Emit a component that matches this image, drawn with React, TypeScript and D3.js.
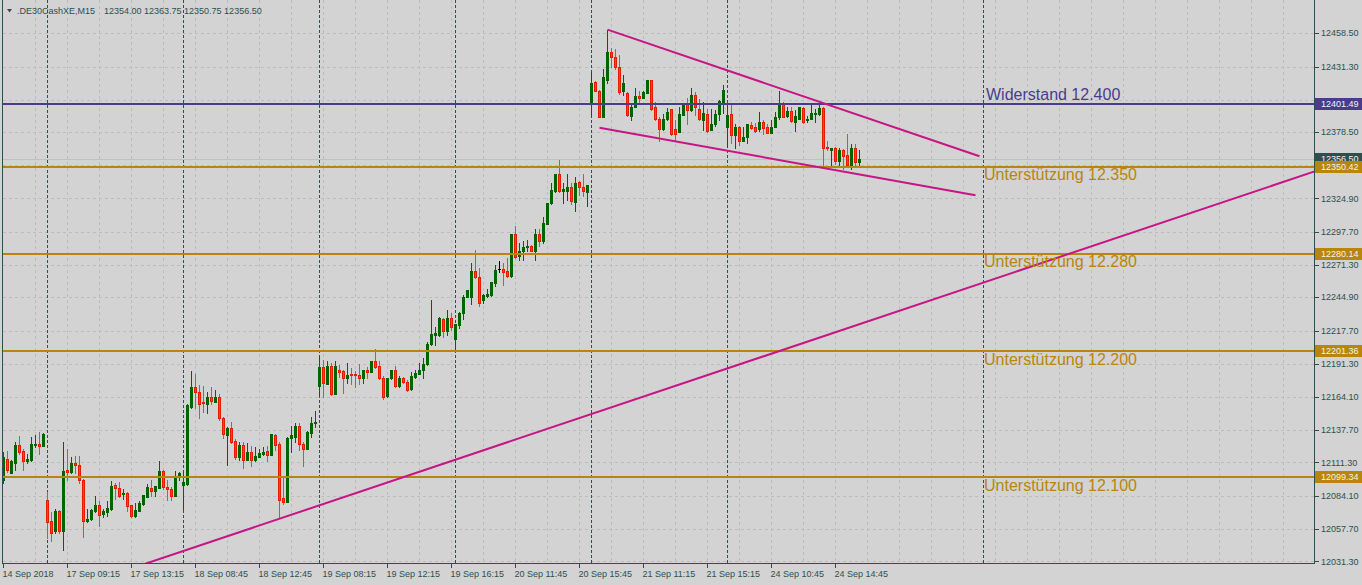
import React from "react";
import * as d3 from "d3";

// DE30 M15 candles, one array per trading day: [open, high, low, close]
const sep14 = [
  [12097, 12120, 12095, 12116], [12114.5, 12120.5, 12104, 12105], [12103, 12113, 12102.5, 12112.5],
  [12111, 12128, 12105, 12125.5], [12125.5, 12132.5, 12118.5, 12120], [12120.5, 12122.5, 12105, 12112.5],
  [12112.5, 12118.5, 12110.5, 12114], [12113.5, 12132, 12112.5, 12126], [12126, 12133.5, 12124, 12126.5],
  [12126, 12136, 12118.5, 12124.5], [12125, 12135.5, 12124.5, 12134.5],
];
const sep17 = [
  [12081, 12087.5, 12050, 12063.5], [12064, 12071.5, 12048, 12054.5], [12055.5, 12074, 12054, 12072],
  [12072, 12073, 12054, 12055.5], [12056, 12127.5, 12040.5, 12104.5], [12105, 12122.5, 12097.5, 12103.5],
  [12104, 12116, 12102.5, 12111], [12111, 12116.5, 12102.5, 12109], [12109, 12116.5, 12094.5, 12097.5],
  [12097.5, 12098, 12051, 12064], [12064, 12074, 12063, 12065.5], [12065.5, 12073.5, 12065, 12073],
  [12072, 12084, 12071.5, 12077], [12077, 12080.5, 12060, 12069], [12069.5, 12074, 12067, 12072],
  [12071.5, 12080, 12068, 12074.5], [12073.5, 12096.5, 12073, 12092], [12093, 12094.5, 12081.5, 12091],
  [12090.5, 12095.5, 12083, 12084], [12085.5, 12089.5, 12081.5, 12087], [12086.5, 12087.5, 12072, 12076],
  [12077, 12077, 12067.5, 12068], [12068, 12078.5, 12067, 12073], [12072, 12080, 12072, 12078.5],
  [12077.5, 12085, 12077, 12085], [12083.5, 12094, 12083.5, 12091.5], [12090.5, 12097.5, 12084, 12088.5],
  [12088.5, 12092.5, 12084, 12092], [12091, 12112.5, 12091, 12104.5], [12104.5, 12105.5, 12089.5, 12091.5],
  [12091.5, 12097.5, 12081, 12089.5], [12090, 12091.5, 12081, 12084], [12084, 12104.5, 12084, 12100],
  [12100, 12104, 12097, 12102.5],
];
const sep18 = [
  [12093, 12104, 12074, 12095.5], [12094, 12159, 12093, 12158], [12156.5, 12185, 12155, 12172.5],
  [12172, 12183, 12155, 12168.5], [12168.5, 12174, 12147, 12158.5], [12160.5, 12173, 12152.5, 12159.5],
  [12158.5, 12168.5, 12151.5, 12164.5], [12164.5, 12172, 12158.5, 12161], [12160, 12170, 12160, 12164.5],
  [12164.5, 12166.5, 12145.5, 12147], [12147, 12148.5, 12131.5, 12134.5], [12133.5, 12140, 12109, 12139.5],
  [12139.5, 12144, 12127, 12127.5], [12129, 12130, 12114, 12115.5], [12115.5, 12128, 12113.5, 12125.5],
  [12125.5, 12128, 12106.5, 12113.5], [12113.5, 12127, 12113, 12120], [12120, 12124.5, 12108.5, 12113.5],
  [12113.5, 12123.5, 12112.5, 12116.5], [12116, 12122.5, 12115.5, 12119], [12118, 12124, 12117.5, 12120],
  [12120.5, 12124.5, 12112.5, 12117.5], [12117.5, 12134.5, 12117, 12134.5], [12133.5, 12134, 12121.5, 12125.5],
  [12126, 12128, 12066, 12081], [12082.5, 12099.5, 12078, 12079.5], [12079.5, 12132, 12079, 12131.5],
  [12131, 12141, 12120, 12133.5], [12132, 12143, 12127.5, 12141], [12141, 12143.5, 12121.5, 12126],
  [12126, 12127.5, 12108.5, 12122.5], [12122.5, 12136.5, 12122, 12136], [12135.5, 12148.5, 12132, 12143],
  [12143.5, 12153, 12140, 12144],
];
const sep19 = [
  [12173, 12197.5, 12166, 12188.5], [12188.5, 12194, 12164.5, 12176], [12174.5, 12193.5, 12174.5, 12189.5],
  [12189.5, 12191.5, 12166, 12166.5], [12167, 12193, 12167, 12189.5], [12186, 12190, 12180.5, 12184.5],
  [12185, 12186.5, 12167.5, 12180], [12180, 12192, 12176, 12182], [12183, 12187.5, 12174.5, 12182],
  [12182.5, 12185, 12172, 12182], [12182, 12191, 12174.5, 12179.5], [12179.5, 12186.5, 12176, 12186.5],
  [12186.5, 12188.5, 12179.5, 12184.5], [12184.5, 12193, 12184.5, 12193], [12193, 12203.5, 12187.5, 12188.5],
  [12189, 12193, 12178.5, 12179.5], [12179.5, 12181, 12163, 12164.5], [12165, 12180, 12164.5, 12179.5],
  [12179.5, 12186, 12178.5, 12186], [12186, 12189, 12172.5, 12173], [12173, 12181, 12172.5, 12179.5],
  [12179.5, 12180.5, 12175.5, 12176.5], [12176.5, 12178, 12169.5, 12170], [12170.5, 12184.5, 12170, 12181],
  [12180.5, 12186.5, 12179.5, 12183.5], [12183, 12192, 12182.5, 12186.5], [12186.5, 12195.5, 12179.5, 12191],
  [12191, 12209, 12190, 12207.5], [12207.5, 12242.5, 12206.5, 12215], [12214.5, 12221, 12206.5, 12216],
  [12214.5, 12229, 12213.5, 12228], [12227, 12228.5, 12213, 12218], [12218, 12235, 12214.5, 12228.5],
  [12228.5, 12232.5, 12218.5, 12221],
];
const sep20 = [
  [12211, 12223.5, 12203, 12223.5], [12222.5, 12233, 12220.5, 12232], [12232, 12246.5, 12227, 12245.5],
  [12245.5, 12251, 12245, 12251], [12245.5, 12272.5, 12239.5, 12266.5], [12266.5, 12283, 12260.5, 12261],
  [12261, 12268.5, 12238, 12240], [12242.5, 12247.5, 12240, 12246.5], [12246, 12251.5, 12245.5, 12248],
  [12246.5, 12257.5, 12246, 12257.5], [12256.5, 12271, 12254, 12267], [12267.5, 12274, 12265, 12267.5],
  [12268, 12272.5, 12255, 12265.5], [12266.5, 12276.5, 12261, 12262], [12262, 12296, 12261.5, 12296],
  [12296, 12302.5, 12276.5, 12277.5], [12278.5, 12289, 12275, 12282.5], [12282, 12290.5, 12275, 12286],
  [12285.5, 12291, 12282, 12286.5], [12286.5, 12287, 12282, 12282.5], [12282.5, 12300.5, 12275, 12296.5],
  [12296.5, 12300.5, 12286.5, 12290.5], [12290.5, 12310, 12289, 12305], [12304.5, 12321.5, 12304, 12321.5],
  [12321, 12337.5, 12320.5, 12331.5], [12331, 12344.5, 12330.5, 12344.5], [12344.5, 12356, 12330, 12331],
  [12331, 12337, 12321, 12332.5], [12331, 12344.5, 12323.5, 12334.5], [12334, 12337, 12320.5, 12323],
  [12322, 12342, 12315, 12337.5], [12338, 12339, 12327.5, 12334], [12334, 12344.5, 12327, 12331],
  [12330.5, 12336, 12319, 12335.5],
];
const sep21 = [
  [12402.5, 12427.5, 12392.5, 12418.5], [12419, 12419.5, 12411.5, 12412], [12412, 12412.5, 12390.5, 12391],
  [12391, 12430, 12390.5, 12423], [12421, 12461.5, 12418, 12443.5], [12443.5, 12446.5, 12431.5, 12439],
  [12439, 12445.5, 12430, 12431], [12431, 12441, 12409.5, 12411], [12412, 12424.5, 12408.5, 12418.5],
  [12410.5, 12411, 12391.5, 12392.5], [12391.5, 12402, 12388, 12399], [12398.5, 12414, 12398.5, 12407.5],
  [12407.5, 12412, 12402.5, 12406], [12406.5, 12412, 12406, 12411], [12410.5, 12421, 12410, 12420.5],
  [12420.5, 12421, 12396.5, 12397], [12398.5, 12403, 12388, 12389], [12389.5, 12390.5, 12371, 12381],
  [12381, 12393.5, 12380, 12389.5], [12389, 12398, 12388, 12395], [12397, 12397.5, 12376, 12377],
  [12381, 12388, 12371, 12377], [12379, 12398.5, 12378.5, 12393], [12392.5, 12402, 12392, 12400.5],
  [12401.5, 12406, 12385, 12396.5], [12396.5, 12414, 12395.5, 12408.5], [12408.5, 12411, 12392.5, 12398.5],
  [12397, 12405, 12388, 12389], [12388.5, 12403, 12380, 12394], [12393.5, 12397, 12379, 12379.5],
  [12380, 12397, 12380, 12385.5], [12385, 12396.5, 12383.5, 12393.5], [12393, 12404.5, 12388, 12404],
  [12402, 12416.5, 12394, 12413],
];
const sep24 = [
  [12382.5, 12402, 12366.5, 12392.5], [12393, 12402, 12370, 12376], [12376, 12385.5, 12365.5, 12382.5],
  [12382.5, 12383.5, 12368, 12371.5], [12371.5, 12383, 12371, 12375], [12375, 12385, 12369.5, 12385],
  [12384.5, 12387, 12381, 12381.5], [12382.5, 12386, 12379, 12379.5], [12381, 12395, 12379.5, 12387],
  [12387, 12388.5, 12377, 12381.5], [12382.5, 12385.5, 12377.5, 12378], [12378, 12388.5, 12377.5, 12383],
  [12383, 12395, 12382.5, 12391], [12390.5, 12412, 12389.5, 12401.5], [12401.5, 12403, 12390.5, 12391],
  [12391.5, 12398.5, 12390.5, 12396], [12396, 12399, 12387, 12387.5], [12387, 12396.5, 12379.5, 12391.5],
  [12389.5, 12399, 12389, 12398.5], [12398, 12398.5, 12386, 12387], [12388, 12391.5, 12387, 12389.5],
  [12389.5, 12402, 12389, 12394], [12393, 12397, 12387, 12394], [12393.5, 12402, 12392.5, 12398],
  [12398, 12398.5, 12352, 12365.5], [12366.5, 12371.5, 12364, 12365.5], [12364, 12365.5, 12352, 12365.5],
  [12365.5, 12366.5, 12353, 12355.5], [12355.5, 12366, 12352, 12364], [12364, 12364.5, 12348.5, 12359],
  [12360, 12377, 12350.5, 12352], [12352, 12369, 12348.5, 12365.5], [12366, 12369, 12350.5, 12354],
  [12354, 12363.75, 12350.75, 12356.5],
];
const tradingDays = [sep14, sep17, sep18, sep19, sep20, sep21, sep24];

const timeLabels = [
  "14 Sep 2018", "17 Sep 09:15", "17 Sep 13:15", "18 Sep 08:45", "18 Sep 12:45",
  "19 Sep 08:15", "19 Sep 12:15", "19 Sep 16:15", "20 Sep 11:45", "20 Sep 15:45",
  "21 Sep 11:15", "21 Sep 15:15", "24 Sep 10:45", "24 Sep 14:45",
];
const priceTicks = [
  12458.5, 12431.3, 12404.9, 12378.5, 12351.7, 12324.9, 12297.7, 12271.3, 12244.9,
  12217.7, 12191.3, 12164.1, 12137.7, 12111.3, 12084.1, 12057.7, 12031.3,
];

const resistance = [12401.49];
const resistanceLabels = ["Widerstand 12.400"];
const supports = [12350.42, 12280.14, 12201.36, 12099.34];
const supportLabels = ["Unterstützung 12.350", "Unterstützung 12.280", "Unterstützung 12.200", "Unterstützung 12.100"];

// trend lines as [bar, price] anchors
const wedgeUpper: [number, number][] = [[151, 12461.5], [244, 12359]];
const wedgeLower: [number, number][] = [[149, 12382], [243, 12327.5]];
const longTrend: [number, number][] = [[36, 12030], [328, 12347]];
const markerBar = 245;

const symbolText = ".DE30CashXE,M15";
const ohlcText = "12354.00 12363.75 12350.75 12356.50";
const bid = 12356.5;

const W = 1362;
const H = 585;
const FONT = "'Liberation Sans', Arial, sans-serif";
const FRAME = "#2f4f4f";
const BG = "#d3d3d3";
const GRID = "#bdbdbd";
const PURPLE = "#483d8b";
const GOLD = "#b8860b";
const PINK = "#c71585";
const BULL = "#006400";
const BEAR = "#ff4500";

const App = () => {
  const candles = tradingDays.flat().map(([o, h, l, c], i) => ({ i, o, h, l, c }));
  const dayStarts = d3.cumsum(tradingDays.map((d) => d.length)).slice(0, -1);

  const x = d3.scaleLinear().domain([0, 1]).range([3.5, 7.5]);
  const y = d3.scaleLinear().domain([12030, 12483]).range([563, 3]);

  const plotLeft = 2.5;
  const plotRight = 1314.5;
  const plotBottom = 563.5;

  const line = d3
    .line<[number, number]>()
    .x((d) => x(d[0]))
    .y((d) => y(d[1]));

  // extend long trend line across the plot
  const [[a0, p0], [a1, p1]] = longTrend;
  const slope = (p1 - p0) / (a1 - a0);
  const barAtLeft = x.invert(0);
  const barAtRight = x.invert(plotRight + 10);
  const longExtended: [number, number][] = [
    [barAtLeft, p0 + (barAtLeft - a0) * slope],
    [barAtRight, p0 + (barAtRight - a0) * slope],
  ];

  const gridBars = d3.range(8, x.invert(plotRight), 8);
  const fmt = d3.format(".2f");

  const tags = [
    { p: bid, fill: FRAME },
    ...resistance.map((p) => ({ p, fill: PURPLE })),
    ...supports.map((p) => ({ p, fill: GOLD })),
  ];
  // axis labels hidden under a price tag are not drawn
  const visibleTicks = priceTicks.filter((t) => tags.every(({ p }) => Math.abs(y(p) - y(t)) > 9));

  return (
    <svg
      width={W}
      height={H}
      style={{ position: "absolute", left: 0, top: 0, display: "block" }}
      fontFamily={FONT}
    >
      <defs>
        <clipPath id="plot">
          <rect x={plotLeft} y={0} width={plotRight - plotLeft} height={plotBottom} />
        </clipPath>
      </defs>
      <rect width={W} height={H} fill={BG} />

      <g clipPath="url(#plot)" shapeRendering="crispEdges">
        {priceTicks.map((t) => (
          <line key={t} x1={plotLeft} x2={plotRight} y1={Math.round(y(t)) + 0.5} y2={Math.round(y(t)) + 0.5}
            stroke={GRID} strokeDasharray="3,3" />
        ))}
        {gridBars.map((b) => (
          <line key={b} x1={x(b)} x2={x(b)} y1={0} y2={plotBottom} stroke={GRID} strokeDasharray="3,3" />
        ))}
        {[...dayStarts, markerBar].map((b) => (
          <line key={"s" + b} x1={x(b)} x2={x(b)} y1={0} y2={plotBottom} stroke={FRAME} strokeDasharray="3,2" />
        ))}
        <line x1={plotLeft} x2={plotRight} y1={Math.round(y(bid)) + 0.5} y2={Math.round(y(bid)) + 0.5} stroke="#c0c0c0" />

        {candles.map((d) => {
          const up = d.c > d.o;
          const flat = d.c === d.o;
          const col = flat ? "#000" : up ? BULL : BEAR;
          const top = Math.round(y(Math.max(d.o, d.c)));
          const bot = Math.round(y(Math.min(d.o, d.c)));
          return (
            <g key={d.i}>
              <line x1={x(d.i)} x2={x(d.i)} y1={Math.round(y(d.h))} y2={Math.round(y(d.l)) + 1}
                stroke={col} />
              {flat ? (
                <line x1={x(d.i) - 1.5} x2={x(d.i) + 1.5} y1={top + 0.5} y2={top + 0.5} stroke={col} />
              ) : (
                <rect x={x(d.i) - 1} y={top + 0.5} width={2} height={Math.max(bot - top, 1)}
                  fill={up ? BULL : BEAR} stroke={up ? BULL : "#e81a00"} />
              )}
            </g>
          );
        })}

        {resistance.map((p) => (
          <line key={p} x1={plotLeft} x2={plotRight} y1={Math.round(y(p))} y2={Math.round(y(p))}
            stroke={PURPLE} strokeWidth={2} />
        ))}
        {supports.map((p) => (
          <line key={p} x1={plotLeft} x2={plotRight} y1={Math.round(y(p))} y2={Math.round(y(p))}
            stroke={GOLD} strokeWidth={2} />
        ))}
      </g>

      <g clipPath="url(#plot)" fill="none" stroke={PINK} strokeWidth={2}>
        <path d={line(wedgeUpper) ?? ""} />
        <path d={line(wedgeLower) ?? ""} />
        <path d={line(longExtended) ?? ""} />
      </g>

      {resistance.map((p, k) => (
        <text key={p} x={x(markerBar) + 2.5} y={y(p) - 4} fontSize={16} fill={PURPLE}>
          {resistanceLabels[k]}
        </text>
      ))}
      {supports.map((p, k) => (
        <text key={p} x={x(markerBar) + 0.5} y={y(p) + 13.5} fontSize={16} fill={GOLD}>
          {supportLabels[k]}
        </text>
      ))}

      {/* header */}
      <path d="M7,9 L12,9 L9.5,12.5 Z" fill={FRAME} />
      <text x={17} y={14} fontSize={9} fill={FRAME}>{symbolText}</text>
      <text x={104} y={14} fontSize={9} fill={FRAME}>{ohlcText}</text>

      {/* frame and axes */}
      <g shapeRendering="crispEdges" stroke={FRAME}>
        <line x1={plotLeft} x2={plotLeft} y1={0} y2={plotBottom} />
        <line x1={plotRight} x2={plotRight} y1={0} y2={plotBottom} />
        <line x1={plotLeft} x2={plotRight} y1={plotBottom} y2={plotBottom} />
        {timeLabels.map((_, k) => (
          <line key={k} x1={x(k * 16) - 0.5} x2={x(k * 16) - 0.5} y1={plotBottom} y2={plotBottom + 4} />
        ))}
        {priceTicks.map((t) => (
          <line key={t} x1={plotRight} x2={plotRight + 4} y1={Math.round(y(t)) + 0.5} y2={Math.round(y(t)) + 0.5} />
        ))}
      </g>
      {timeLabels.map((t, k) => (
        <text key={t} x={x(k * 16) - 1} y={577} fontSize={9} fill={FRAME}>{t}</text>
      ))}
      {visibleTicks.map((t) => (
        <text key={t} x={1321} y={y(t)} dy="0.35em" fontSize={9} fill={FRAME}>{fmt(t)}</text>
      ))}

      {/* price tags; the bid tag sits partly under the support tag */}
      {tags.map(({ p, fill }) => (
        <g key={"tag" + p}>
          <rect x={1315} y={Math.round(y(p)) - 6} width={W - 1315} height={12} fill={fill} />
          <text x={1321} y={Math.round(y(p))} dy="0.35em" fontSize={9} fill="#f2f2f2">{fmt(p)}</text>
        </g>
      ))}
    </svg>
  );
};

export default App;
